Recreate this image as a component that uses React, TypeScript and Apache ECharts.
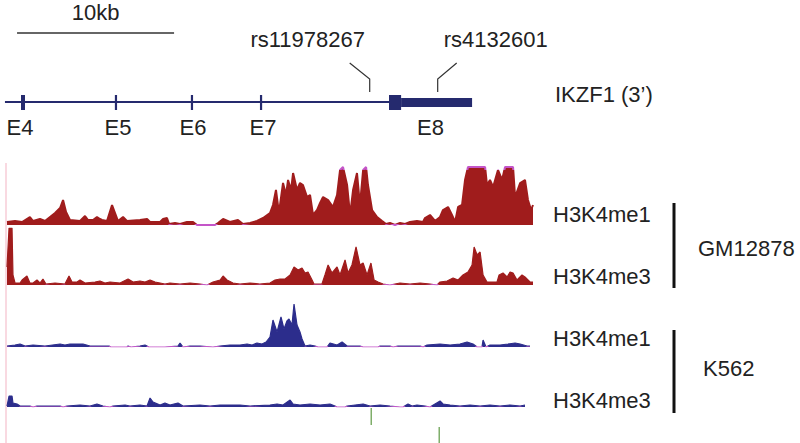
import React, { useEffect, useRef } from "react";
import * as echarts from "echarts";

// ---------- data (genomic positions in kb from window start, signal heights) ----------
const WINDOW_KB = 33.5;

const gm12878Me1: [number, number][] = [
  [0.0, 3], [0.51, 4], [0.96, 3], [1.46, 8], [1.66, 4], [2.1, 6], [2.42, 4], [2.74, 8], [3.06, 12], [3.38, 17],
  [3.57, 25], [3.76, 13], [4.01, 5], [4.65, 4], [4.97, 9], [5.16, 5], [5.48, 5], [5.73, 8], [5.92, 6], [6.05, 5],
  [6.37, 4], [6.69, 20], [6.88, 12], [7.07, 4], [7.39, 8], [7.64, 4], [8.47, 5], [8.92, 6], [9.11, 3], [9.75, 3],
  [9.94, 6], [10.19, 7], [10.32, 1], [10.7, 2], [11.02, 1], [11.46, 3], [11.85, 3], [12.1, 0], [13.25, 0], [13.44, 2],
  [13.76, 6], [14.2, 3], [14.71, 5], [15.03, 1], [15.48, 2], [15.92, 4], [16.31, 7], [16.75, 12], [16.94, 20], [17.13, 35],
  [17.32, 12], [17.58, 42], [17.77, 30], [17.9, 45], [18.09, 35], [18.22, 52], [18.47, 35], [18.66, 42], [18.85, 40], [19.11, 28],
  [19.3, 30], [19.49, 10], [19.75, 15], [19.94, 22], [20.13, 28], [20.45, 25], [20.76, 18], [21.02, 30], [21.21, 55], [21.4, 58],
  [21.66, 40], [21.85, 10], [22.04, 35], [22.29, 52], [22.48, 20], [22.68, 55], [22.87, 58], [22.99, 40], [23.25, 15], [23.57, 8],
  [23.89, 4], [24.14, 1], [24.39, 2], [24.71, 0], [25.03, 2], [25.35, 1], [25.67, 3], [26.11, 4], [26.5, 3], [26.62, 7],
  [26.94, 10], [27.26, 4], [27.58, 8], [27.77, 15], [28.09, 18], [28.34, 10], [28.54, 3], [28.73, 18], [28.98, 20], [29.17, 45],
  [29.36, 58], [30.45, 58], [30.57, 40], [30.76, 45], [30.96, 38], [31.27, 55], [31.53, 45], [31.72, 58], [32.23, 58], [32.36, 28],
  [32.68, 42], [32.99, 45], [33.18, 25], [33.38, 15], [33.5, 20],
];

const gm12878Me3: [number, number][] = [
  [0.0, 18], [0.13, 57], [0.32, 57], [0.38, 10], [0.51, 2], [0.83, 2], [0.96, 5], [1.27, 9], [1.46, 2], [1.66, 2],
  [1.91, 5], [2.1, 2], [2.29, 6], [2.48, 1], [3.06, 2], [3.69, 1], [3.95, 9], [4.14, 3], [4.46, 3], [4.65, 5],
  [4.97, 2], [5.61, 3], [5.92, 4], [6.24, 2], [6.56, 3], [7.2, 2], [7.71, 6], [8.03, 3], [8.47, 4], [8.79, 3],
  [9.11, 5], [9.43, 3], [9.75, 2], [10.06, 1], [10.38, 2], [11.02, 1], [11.66, 2], [12.29, 1], [12.74, 0], [13.12, 3],
  [13.57, 5], [13.76, 9], [14.01, 5], [14.39, 2], [14.84, 1], [15.48, 2], [16.11, 1], [16.75, 2], [17.07, 5], [17.39, 6],
  [17.71, 6], [18.03, 10], [18.28, 18], [18.54, 15], [18.79, 17], [18.98, 12], [19.17, 13], [19.43, 5], [19.55, 1], [20.06, 1],
  [20.25, 10], [20.45, 20], [20.7, 12], [21.02, 18], [21.21, 10], [21.53, 25], [21.72, 12], [21.97, 20], [22.23, 38], [22.48, 20],
  [22.68, 22], [22.93, 10], [23.18, 22], [23.38, 5], [23.63, 3], [23.95, 1], [24.39, 0], [25.03, 2], [25.67, 1], [26.31, 2],
  [26.94, 1], [27.39, 0], [27.58, 3], [28.03, 4], [28.41, 7], [28.73, 5], [29.04, 10], [29.36, 13], [29.62, 20], [29.75, 38],
  [29.94, 30], [30.13, 33], [30.32, 10], [30.57, 3], [31.21, 3], [31.34, 10], [31.59, 12], [31.85, 8], [32.04, 13], [32.23, 12],
  [32.48, 5], [32.8, 10], [32.99, 8], [33.31, 3], [33.5, 3],
];

const k562Me1: [number, number][] = [
  [0.0, 1], [0.51, 2], [0.83, 3], [1.15, 1], [1.66, 2], [2.42, 1], [3.38, 3], [3.69, 2], [4.01, 3], [4.84, 3],
  [5.29, 1], [6.5, 1], [6.62, 0], [7.64, 0], [7.71, 1], [7.9, 0], [8.47, 1], [8.79, 2], [9.04, 0], [10.06, 0],
  [10.89, 1], [11.02, 4], [11.21, 0], [11.66, 1], [12.29, 1], [13.12, 0], [13.57, 1], [14.2, 2], [14.84, 2], [15.29, 3],
  [15.61, 2], [15.92, 4], [16.24, 3], [16.5, 5], [16.75, 10], [16.94, 27], [17.2, 15], [17.45, 30], [17.64, 18], [17.83, 26],
  [17.96, 28], [18.15, 22], [18.28, 43], [18.47, 22], [18.66, 15], [18.79, 8], [18.98, 1], [19.3, 2], [19.62, 1], [19.81, 0],
  [20.38, 0], [20.57, 4], [21.02, 2], [21.34, 5], [21.66, 1], [22.48, 1], [22.68, 0], [23.63, 0], [23.76, 1], [24.39, 1],
  [24.59, 0], [24.9, 1], [26.31, 1], [26.5, 0], [26.75, 2], [27.58, 3], [28.22, 2], [28.85, 3], [29.3, 5], [29.68, 3],
  [29.94, 0], [30.25, 0], [30.32, 7], [30.51, 0], [30.76, 2], [31.4, 2], [31.91, 3], [32.36, 4], [32.68, 3], [33.12, 1],
  [33.31, 1],
];

const k562Me3: [number, number][] = [
  [0.0, 1], [0.13, 11], [0.32, 11], [0.38, 4], [0.64, 3], [0.83, 1], [1.46, 1], [1.66, 0], [1.91, 1], [3.38, 1],
  [3.57, 0], [3.82, 1], [4.65, 2], [5.29, 1], [5.73, 3], [6.11, 1], [6.56, 0], [6.75, 1], [7.52, 2], [7.83, 1],
  [8.47, 2], [8.92, 1], [9.11, 9], [9.3, 5], [9.75, 2], [10.06, 4], [10.38, 2], [10.89, 4], [11.21, 1], [12.29, 2],
  [12.93, 1], [13.57, 2], [14.84, 2], [15.48, 1], [16.75, 2], [17.2, 3], [17.58, 2], [18.03, 7], [18.22, 3], [18.66, 2],
  [19.3, 3], [19.94, 2], [20.57, 3], [20.89, 1], [21.02, 0], [21.53, 0], [21.66, 1], [22.17, 2], [22.68, 3], [23.12, 1],
  [23.76, 2], [24.39, 1], [25.03, 0], [25.22, 0], [25.54, 3], [25.8, 1], [26.11, 2], [26.62, 1], [26.94, 0], [27.58, 6],
  [27.77, 3], [28.22, 2], [28.85, 1], [29.49, 2], [30.13, 1], [30.76, 2], [31.4, 1], [32.04, 2], [32.68, 1], [32.99, 2],
];

// gene model (kb)
const geneName = "IKZF1 (3\u2019)";
const intronSpan = [-0.13, 24.33];
const exonNames = ["E4", "E5", "E6", "E7"];
const exonKb = [1.02, 6.94, 11.78, 16.18];
const e8Name = "E8";
const e8BoxSpan = [24.33, 25.1];
const e8BodySpan = [25.1, 29.62];
const snpNames = ["rs11978267", "rs4132601"];
const snpKb = [23.1, 27.43];
const scaleBarKb = [0.64, 10.64];

const markNames = ["H3K4me1", "H3K4me3", "H3K4me1", "H3K4me3"];
const cellLines = ["GM12878", "K562"];

// ---------- styles ----------
const RED = "#a01c1c";
const BLUE = "#2c2d8c";
const MAG = "#c455c8";
const NAVY = "#252a6e";
const INK = "#222222";
const GREEN = "#5f9a45";
const PINK = "#f3b3c3";
const FONT = '"Liberation Sans", Arial, Helvetica, sans-serif';
const FS = 22;

const trackLayout = [
  { data: gm12878Me1, color: RED, top: 167, height: 58, max: 58, sat: 55.5, lw: 2 },
  { data: gm12878Me3, color: RED, top: 228, height: 57, max: 57, sat: 1000, lw: 1.2 },
  { data: k562Me1, color: BLUE, top: 302, height: 45, max: 45, sat: 1000, lw: 1.2 },
  { data: k562Me3, color: BLUE, top: 362, height: 45, max: 45, sat: 1000, lw: 1.2 },
];

const textStyle = (text: string, align: string = "center") => ({
  text,
  fill: INK,
  fontSize: FS,
  fontFamily: FONT,
  align,
  verticalAlign: "middle",
});

function renderGene(params: any, api: any) {
  const X = (kb: number) => api.coord([kb, 0])[0];
  const kids: any[] = [];
  const seg = (x1: number, y1: number, x2: number, y2: number, stroke: string, w: number) => ({
    type: "line",
    shape: { x1, y1, x2, y2 },
    style: { stroke, lineWidth: w },
  });
  const label = (t: string, x: number, y: number, align = "center") => ({
    type: "text",
    x,
    y,
    style: textStyle(t, align),
  });

  // scale bar
  const sb0 = X(scaleBarKb[0]);
  const sb1 = X(scaleBarKb[1]);
  kids.push(seg(sb0, 33, sb1, 33, "#333", 1.6));
  kids.push(label(`${Math.round(scaleBarKb[1] - scaleBarKb[0])}kb`, (sb0 + sb1) / 2, 12));

  // intron backbone
  kids.push(seg(X(intronSpan[0]), 102, X(intronSpan[1]), 102, NAVY, 2));
  // exons E4-E7
  const tickW = [4, 2.2, 2.2, 2.2];
  const labelDx = [-3, 2, 1, 2];
  exonKb.forEach((kb, i) => {
    const x = X(kb);
    kids.push(seg(x, 95, x, 110, NAVY, tickW[i]));
    kids.push(label(exonNames[i], x + labelDx[i], 127));
  });
  // E8
  const bx0 = X(e8BoxSpan[0]);
  const bx1 = X(e8BoxSpan[1]);
  kids.push({ type: "rect", shape: { x: bx0, y: 95, width: bx1 - bx0, height: 15 }, style: { fill: NAVY } });
  const cx0 = X(e8BodySpan[0]);
  const cx1 = X(e8BodySpan[1]);
  kids.push({ type: "rect", shape: { x: cx0, y: 98, width: cx1 - cx0, height: 9 }, style: { fill: NAVY } });
  kids.push(label(e8Name, (bx0 + cx1) / 2, 127));

  // SNP leaders + labels
  const leadDx = [-20, 19];
  const labDx = [-62, 58];
  snpNames.forEach((name, i) => {
    const x = X(snpKb[i]);
    kids.push({
      type: "polyline",
      shape: { points: [[x + leadDx[i], 63], [x, 79], [x, 92]] },
      style: { stroke: "#333", lineWidth: 1.2, fill: null },
    });
    kids.push(label(name, x + labDx[i], 39));
  });

  // SNP ticks under the tracks
  const gy = [[408, 425], [427, 443]];
  snpKb.forEach((kb, i) => {
    const x = X(kb) + 1.5;
    kids.push(seg(x, gy[i][0], x, gy[i][1], GREEN, 1.2));
  });

  return { type: "group", children: kids };
}

function buildOption(): any {
  const grid: any[] = [];
  const xAxis: any[] = [];
  const yAxis: any[] = [];
  const series: any[] = [];
  const visualMap: any[] = [];

  trackLayout.forEach((t, i) => {
    grid.push({ left: 7, width: 526, top: t.top, height: t.height });
    xAxis.push({ type: "value", gridIndex: i, min: 0, max: WINDOW_KB, show: false });
    yAxis.push({ type: "value", gridIndex: i, min: 0, max: t.max, show: false });
    series.push({
      type: "line",
      xAxisIndex: i,
      yAxisIndex: i,
      data: t.data,
      symbol: "none",
      silent: true,
      lineStyle: { width: t.lw },
      areaStyle: { color: t.color, opacity: 1 },
    });
    visualMap.push({
      type: "piecewise",
      show: false,
      seriesIndex: i,
      dimension: 1,
      pieces: [
        { gte: -100, lt: 0.6, color: MAG },
        { gte: 0.6, lt: t.sat, color: t.color },
        { gte: t.sat, lte: 2000, color: MAG },
      ],
      outOfRange: { color: t.color },
    });
  });

  // gene model grid (same genomic x scale)
  grid.push({ left: 7, width: 526, top: 0, height: 150 });
  xAxis.push({ type: "value", gridIndex: 4, min: 0, max: WINDOW_KB, show: false });
  yAxis.push({ type: "value", gridIndex: 4, min: 0, max: 1, show: false });
  series.push({
    type: "custom",
    coordinateSystem: "cartesian2d",
    xAxisIndex: 4,
    yAxisIndex: 4,
    data: [[0, 0]],
    renderItem: renderGene,
    clip: false,
    silent: true,
    z: 5,
  });

  const graphic: any[] = [
    { type: "line", shape: { x1: 6, y1: 163, x2: 6, y2: 443 }, style: { stroke: PINK, lineWidth: 1 }, silent: true },
    { type: "text", x: 555, y: 94, style: textStyle(geneName, "left") },
    { type: "text", x: 553, y: 214, style: textStyle(markNames[0], "left") },
    { type: "text", x: 553, y: 276, style: textStyle(markNames[1], "left") },
    { type: "text", x: 553, y: 338, style: textStyle(markNames[2], "left") },
    { type: "text", x: 553, y: 400, style: textStyle(markNames[3], "left") },
    { type: "rect", shape: { x: 672.5, y: 203, width: 3, height: 85 }, style: { fill: "#111" } },
    { type: "rect", shape: { x: 672.5, y: 330, width: 3, height: 83 }, style: { fill: "#111" } },
    { type: "text", x: 698, y: 248, style: textStyle(cellLines[0], "left") },
    { type: "text", x: 703, y: 368, style: textStyle(cellLines[1], "left") },
  ];

  return {
    animation: false,
    backgroundColor: "#ffffff",
    grid,
    xAxis,
    yAxis,
    visualMap,
    series,
    graphic,
  };
}

export default function App() {
  const ref = useRef<HTMLDivElement>(null);
  useEffect(() => {
    if (!ref.current) return;
    const chart = echarts.init(ref.current, null, { renderer: "svg" });
    chart.setOption(buildOption());
    return () => chart.dispose();
  }, []);
  return (
    <div
      ref={ref}
      style={{ position: "absolute", left: 0, top: 0, width: 800, height: 443, background: "#fff" }}
    />
  );
}
